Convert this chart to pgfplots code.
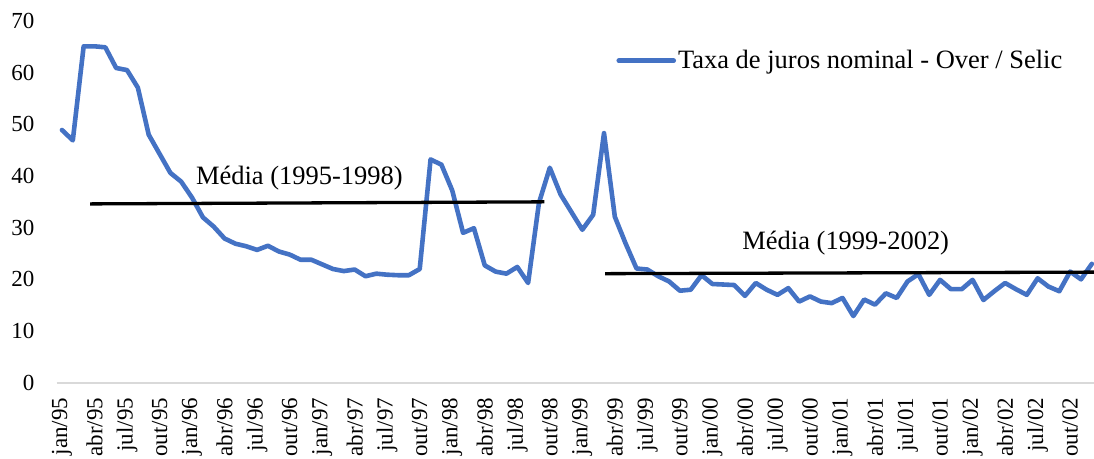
\documentclass[border=0pt]{standalone}
\usepackage{pgfplots}
\pgfplotsset{compat=1.18}
\usepackage{fontspec}
\setmainfont{Liberation Serif}
\definecolor{selic}{RGB}{68,114,196}
\definecolor{axgray}{RGB}{217,217,217}
\begin{document}
\fontsize{23}{27}\selectfont
\begin{tikzpicture}
\begin{axis}[
  scale only axis,
  width=1038.3pt, height=362pt,
  xmin=-0.5, xmax=95.2, ymin=0, ymax=70,
  separate axis lines,
  axis x line*=bottom, axis y line*=left,
  x axis line style={draw=axgray, line width=2pt},
  y axis line style={draw=none},
  major tick length=0pt,
  ytick={0,10,...,70},
  xtick={0,3,...,93},
  xticklabels={jan/95,abr/95,jul/95,out/95,jan/96,abr/96,jul/96,out/96,jan/97,abr/97,jul/97,out/97,jan/98,abr/98,jul/98,out/98,jan/99,abr/99,jul/99,out/99,jan/00,abr/00,jul/00,out/00,jan/01,abr/01,jul/01,out/01,jan/02,abr/02,jul/02,out/02},
  xticklabel style={rotate=90, anchor=east, inner sep=0pt},
  yticklabel style={anchor=east, inner sep=0pt},
  xticklabel shift=15pt,
  yticklabel shift=22pt,
  /pgf/number format/assume math mode=true,
  legend style={draw=none, fill=none, at={(axis cs:51.15,62.3)}, anchor=west, inner sep=0pt, outer sep=0pt, font=\fontsize{26.5}{30}\selectfont},
  legend image code/.code={\draw[#1] (0pt,0pt) -- (55pt,0pt);},
  legend cell align=left,
]
\addplot[selic, line width=4.6pt, line join=round, line cap=round] coordinates {
(0,48.9) (1,46.9) (2,65.1) (3,65.1) (4,64.9) (5,60.9) (6,60.5) (7,57.1) (8,48.0) (9,44.3)
(10,40.6) (11,38.9) (12,35.8) (13,32.0) (14,30.2) (15,27.9) (16,26.9) (17,26.4) (18,25.7) (19,26.5)
(20,25.4) (21,24.8) (22,23.8) (23,23.8) (24,22.9) (25,22.0) (26,21.6) (27,21.9) (28,20.6) (29,21.1)
(30,20.9) (31,20.8) (32,20.8) (33,22.0) (34,43.2) (35,42.2) (36,37.2) (37,29.0) (38,29.9) (39,22.7)
(40,21.5) (41,21.1) (42,22.4) (43,19.3) (44,34.8) (45,41.6) (46,36.4) (47,33.0) (48,29.6) (49,32.5)
(50,48.3) (51,32.1) (52,26.9) (53,22.1) (54,21.9) (55,20.6) (56,19.6) (57,17.8) (58,18.0) (59,20.8)
(60,19.1) (61,19.0) (62,18.9) (63,16.8) (64,19.3) (65,18.0) (66,17.0) (67,18.3) (68,15.7) (69,16.7)
(70,15.7) (71,15.4) (72,16.4) (73,12.9) (74,16.1) (75,15.1) (76,17.3) (77,16.4) (78,19.6) (79,21.0)
(80,17.0) (81,19.9) (82,18.1) (83,18.1) (84,19.9) (85,16.0) (86,17.7) (87,19.3) (88,18.1) (89,17.0)
(90,20.2) (91,18.6) (92,17.7) (93,21.5) (94,20.0) (95,23.0)
};
\addlegendentry{Taxa de juros nominal - Over / Selic}
\addplot[black, line width=3.3pt, forget plot] coordinates {(2.6,34.6) (44.5,35.0)};
\addplot[black, line width=3.3pt, forget plot] coordinates {(50.1,21.1) (95.2,21.4)};
\node[font=\fontsize{26.5}{30}\selectfont] at (axis cs:21.9,39.6) {Média (1995-1998)};
\node[font=\fontsize{26.5}{30}\selectfont] at (axis cs:72.3,27.1) {Média (1999-2002)};
\end{axis}
\pgfresetboundingbox
\path ([shift={(-56.6pt,-76pt)}]current axis.south west) rectangle ([shift={(0pt,21pt)}]current axis.north east);
\end{tikzpicture}
\end{document}
